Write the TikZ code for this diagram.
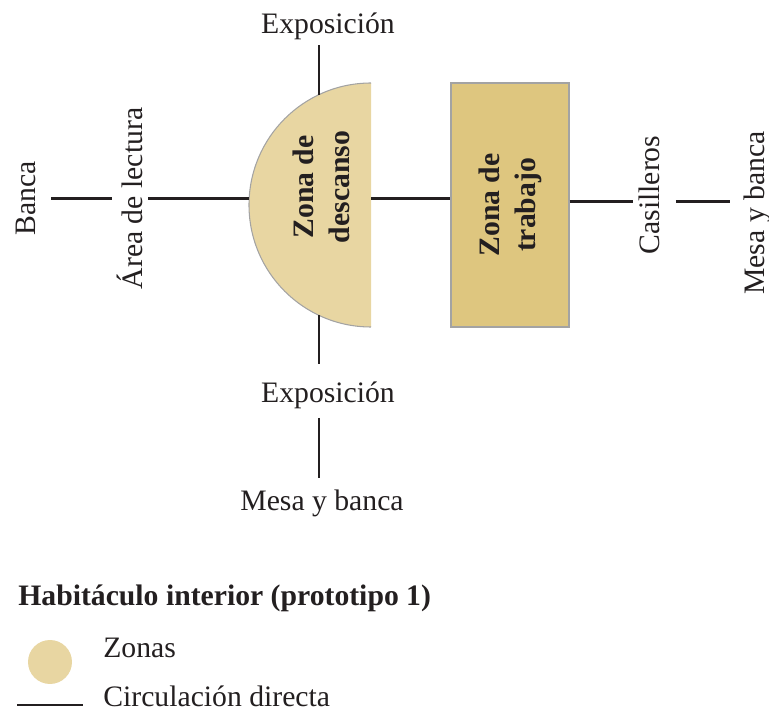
\documentclass[tikz,border=0pt]{standalone}
\usepackage{fontspec}
\setmainfont{Liberation Serif}
\usepackage{tikz}
\usetikzlibrary{calc}
\definecolor{rest}{HTML}{E8D6A2}
\definecolor{work}{HTML}{DEC67F}
\definecolor{rim}{HTML}{A3A3A3}
\definecolor{ink}{HTML}{231F20}
\newcommand{\lblsize}{\fontsize{16.9}{20.5}\selectfont}

\begin{document}
\begin{tikzpicture}[x=0.02cm,y=0.02cm,
  lbl/.style={font=\lblsize,text=ink,inner sep=0.1cm},
  vlbl/.style={lbl,rotate=90},
  bold/.style={font=\lblsize\bfseries,text=ink,align=center},
  path/.style={line width=1.6pt,draw=ink}]
  \useasboundingbox (0,0) rectangle (769,711);
  % zona de descanso
  \coordinate (dc) at (371,506);
  \fill[rest] ($(dc)+(90:122)$) arc[start angle=90,end angle=270,radius=122] -- cycle;
  \draw[rim,line width=0.6pt] ($(dc)+(90:122)$) arc[start angle=90,end angle=270,radius=122];
  \coordinate (dl) at ($(dc)+(177:122)$);
  \coordinate (dr) at ($(dc)+(0,6.5)$);
  \coordinate (dt) at ($(dc)+(115.2:122)$);
  \coordinate (db) at ($(dc)+(244.8:122)$);
  \node[bold,rotate=90] (zd) at (321,524) {Zona de\\descanso};
  % zona de trabajo
  \node[bold,rotate=90,draw=rim,fill=work,line width=0.6pt,
    minimum width=4.88cm,minimum height=2.36cm] (zt) at (510,506) {Zona de\\trabajo};
  % left
  \node[vlbl] (banca) at (26,512.5) {Banca};
  \node[vlbl] (area) at (130,512.5) {Área de lectura};
  \draw[path,shorten <=0.2cm] (banca.south) -- (area.north);
  \draw[path] (area.south) -- (area.south -| dl);
  \draw[path] (dr) -- (zt.north |- dr);
  % right
  \coordinate (rr) at (0,509.5);
  \node[vlbl] (casil) at (649,516) {Casilleros};
  \node[vlbl] (mesaR) at (757,498) {Mesa y banca};
  \draw[path] (zt.south |- rr) -- (casil.north |- rr);
  \draw[path,shorten <=0.22cm,shorten >=0.16cm] (casil.south |- rr) -- (mesaR.north |- rr);
  % top and bottom
  \node[lbl] (expoT) at (328,684.5) {Exposición};
  \node[lbl] (expoM) at (328,316) {Exposición};
  \node[lbl] (mesaB) at (322,207.5) {Mesa y banca};
  \draw[path] (expoT.south -| dt) -- (dt);
  \draw[path,shorten >=0.24cm] (db) -- (expoM.north -| db);
  \draw[path,shorten <=0.08cm,shorten >=0.14cm] (expoM.south -| db) -- (mesaB.north -| db);
  % legend
  \node[bold,anchor=west,inner sep=0pt] (title) at (18,113) {Habitáculo interior (prototipo 1)};
  \node[circle,fill=rest,minimum size=0.88cm,inner sep=0pt] (lzona) at (50,49) {};
  \node[lbl,anchor=west,inner sep=0pt] (tzona) at (103,63) {Zonas};
  \coordinate (lla) at (17,6);
  \coordinate (llb) at (83,6);
  \draw[path] (lla) -- (llb);
  \node[lbl,anchor=west,inner sep=0pt] (tcirc) at (103,14.5) {Circulación directa};
\end{tikzpicture}
\end{document}
